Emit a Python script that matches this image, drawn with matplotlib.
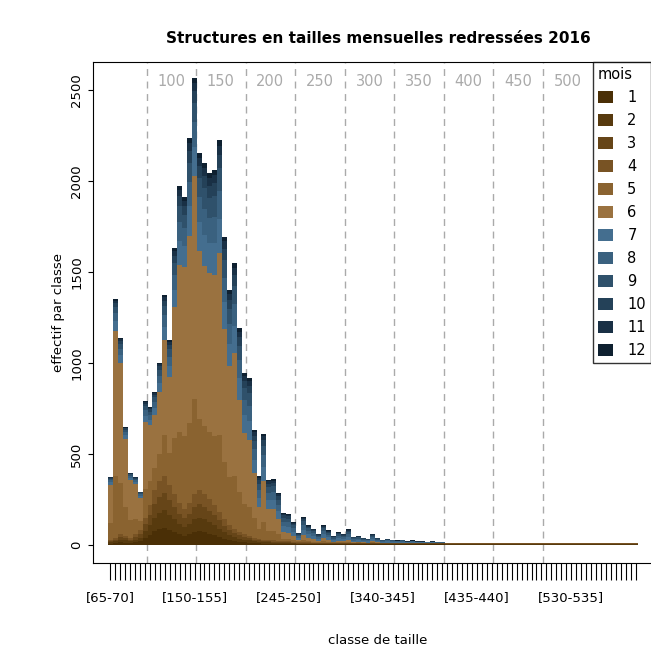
import numpy as np
import matplotlib
matplotlib.use("Agg")
import matplotlib.pyplot as plt

classes = [f"[{a}-{a+5}]" for a in range(65, 600, 5)]
n = len(classes)
head_total = [375,1350,1136,648,397,373,293,792,757,842,1001,1372,1125,1630,1971,1910,2234,2564,2150,2100,
              2042,2060,2223,1692,1400,1548,1191,944,917,631,379,609,357,362,285,176,170,126,66,154,110]
tail_total = [90,60,110,80,50,70,60,85,45,50,40,35,60,40,30,35,30,25,30,20,25,20,20,18,20,15,15]
total = head_total + tail_total + [10]*(n - len(head_total) - len(tail_total))
early = [30,40,60,50,40,60,80,150,220,300,350,380,330,280,230,200,230,280,300,280,250,220,180,140,110,90,70,
         60,50,40,35,30,28,25,22,20,20,18,16,15,15] + [12]*27 + [10]*(n-68)
blue_frac = [0.12,0.13,0.12,0.1,0.1,0.1,0.12,0.15,0.13,0.15,0.16,0.18,0.18,0.2,0.22,0.2,0.24,0.21,0.25,0.27,
             0.27,0.28,0.28,0.3,0.3,0.32,0.33,0.35,0.37,0.37,0.45,0.42,0.45,0.45,0.5,0.6,0.6,0.6,0.6,0.65,0.65] \
            + [0.65]*27 + [0.0]*(n-68)
brown_share = [0.25, 0.25, 0.25, 0.25]          # months 1-4 within early
late_brown_share = [0.3, 0.7]                   # months 5-6
blue_share = [0.3, 0.25, 0.2, 0.12, 0.08, 0.05]  # months 7-12
colors = ["#4a2f06","#573a0e","#664518","#785324","#8a6330","#9a7240",
          "#446e8f","#3a617f","#2f516b","#244158","#193045","#0e2030"]
tick_label_idx = [0, 17, 36, 55, 74, 93]

total = np.array(total, float); early = np.array(early, float); bf = np.array(blue_frac)
early = np.minimum(early, total)
blue = np.minimum(total*bf, total-early)
mid = total - early - blue
layers = [early*s for s in brown_share] + [mid*s for s in late_brown_share] + [blue*s for s in blue_share]

fig = plt.figure(figsize=(6.51, 6.46), dpi=100)
ax = fig.add_axes([93/651, 83/646, 570/651, 501/646])
x = np.arange(n)
bottom = np.zeros(n)
for i, (ly, c) in enumerate(zip(layers, colors)):
    ax.bar(x, ly, bottom=bottom, width=1.0, color=c, label=str(i+1), linewidth=0)
    bottom += ly
for v in range(100, 550, 50):
    xi = (v-65)/5 + 0.3
    ax.axvline(xi, color="#aaaaaa", ls=(0, (5, 4)), lw=1, zorder=0.5)
    ax.text(xi+5, 2545, str(v), color="#aaaaaa", fontsize=10.5, ha="center", va="center")
ax.set_xlim(-3.5, (663-112)/4.94)
ax.set_ylim(-99, 2652)
ax.set_xticks(x)
ax.set_xticklabels([c if i in tick_label_idx else "" for i, c in enumerate(classes)], fontsize=9.5)
ax.tick_params(axis="x", length=12, pad=8)
ax.set_yticks(range(0, 2501, 500))
ax.set_yticklabels([str(v) for v in range(0, 2501, 500)], rotation=90, va="center", fontsize=9.5)
ax.set_ylabel("effectif par classe", fontsize=9.5)
ax.set_xlabel("classe de taille", fontsize=9.5, labelpad=22)
ax.set_title("Structures en tailles mensuelles redressées 2016", fontweight="bold", fontsize=11, pad=14)
leg = fig.legend(title="mois", loc="upper right", bbox_to_anchor=(651/651, 1-62/646), fancybox=False,
                 edgecolor="black", fontsize=10.5, title_fontsize=10.5, handlelength=1, handleheight=0.9,
                 labelspacing=0.55, borderaxespad=0.0, borderpad=0.35, handletextpad=1.0)
leg._legend_box.align = "left"
leg.get_frame().set_linewidth(1)
fig.savefig("out.png", dpi=100)
